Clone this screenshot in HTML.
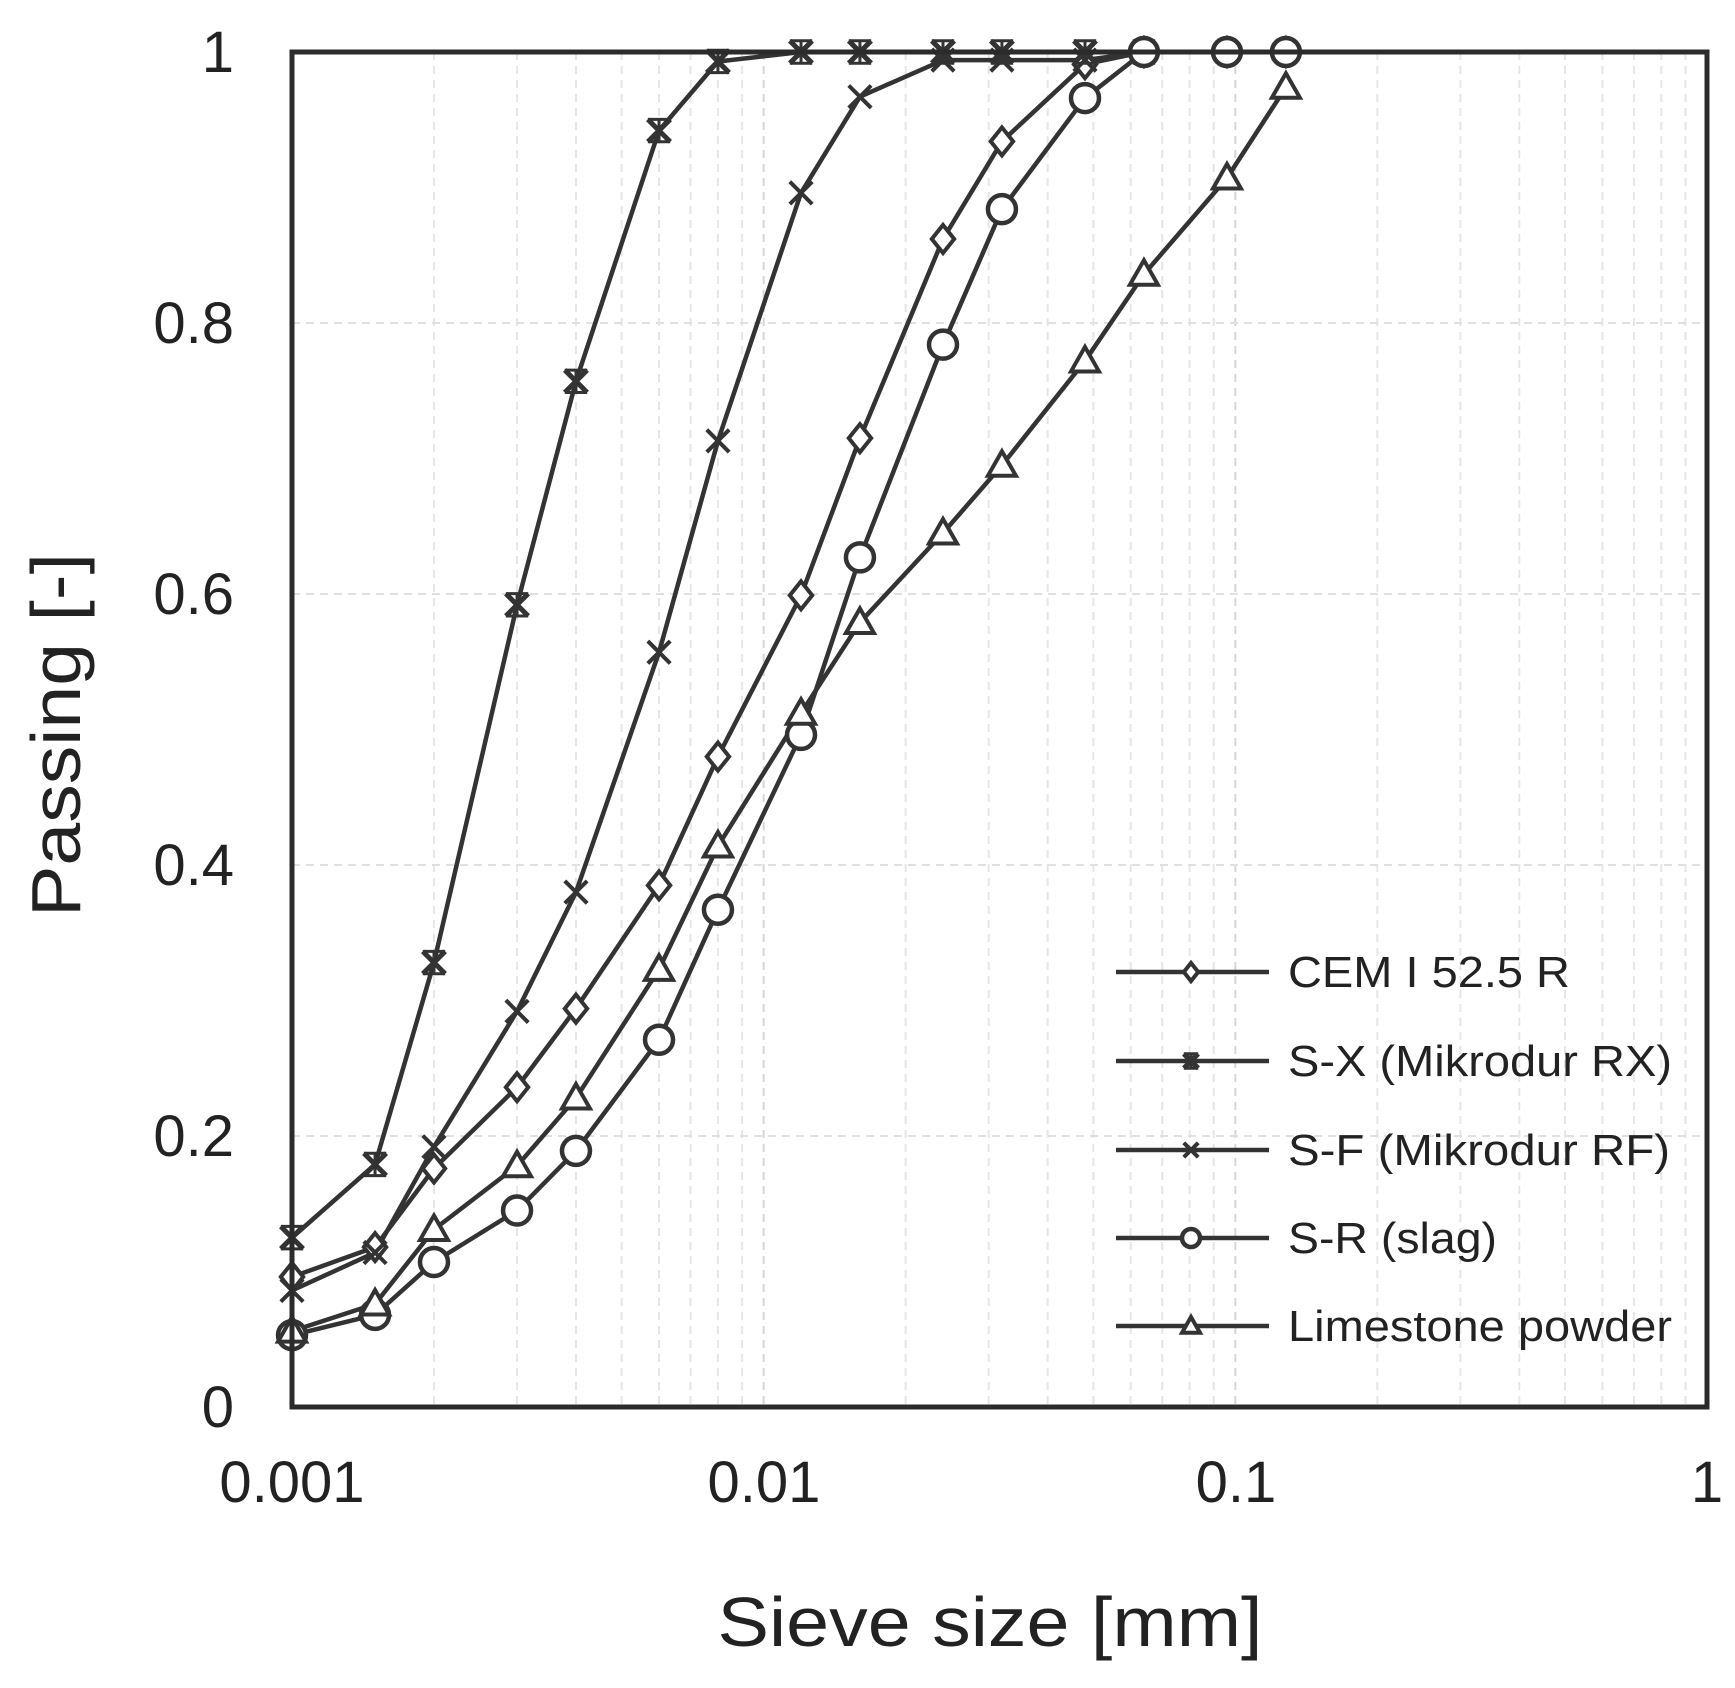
<!DOCTYPE html>
<html><head><meta charset="utf-8"><style>html,body{margin:0;padding:0;background:#fff}svg{display:block}</style></head>
<body>
<svg id="s" width="1735" height="1688" viewBox="0 0 1735 1688" xmlns="http://www.w3.org/2000/svg" font-family="Liberation Sans, sans-serif">
<g id="grid"></g>
<g id="data"></g>
<rect x="292" y="52" width="1415" height="1355" fill="none" stroke="#2b2b2b" stroke-width="5"/>
<g font-size="58" fill="#222" text-anchor="end">
<text x="234" y="72">1</text>
<text x="234" y="343">0.8</text>
<text x="234" y="614">0.6</text>
<text x="234" y="885">0.4</text>
<text x="234" y="1156">0.2</text>
<text x="234" y="1427">0</text>
</g>
<g font-size="58" fill="#222" text-anchor="middle">
<text x="292" y="1502">0.001</text>
<text x="764" y="1502">0.01</text>
<text x="1236" y="1502">0.1</text>
<text x="1707" y="1502">1</text>
</g>
<text x="990" y="1646" font-size="70" fill="#222" text-anchor="middle" textLength="545" lengthAdjust="spacingAndGlyphs">Sieve size [mm]</text>
<text transform="translate(80,735) rotate(-90)" font-size="70" fill="#222" text-anchor="middle" textLength="364" lengthAdjust="spacingAndGlyphs">Passing [-]</text>
<g id="legend" font-size="44" fill="#222">
<text x="1288" y="987" textLength="282" lengthAdjust="spacingAndGlyphs">CEM I 52.5 R</text>
<text x="1288" y="1076" textLength="384" lengthAdjust="spacingAndGlyphs">S-X (Mikrodur RX)</text>
<text x="1288" y="1165" textLength="382" lengthAdjust="spacingAndGlyphs">S-F (Mikrodur RF)</text>
<text x="1288" y="1253" textLength="209" lengthAdjust="spacingAndGlyphs">S-R (slag)</text>
<text x="1288" y="1341" textLength="384" lengthAdjust="spacingAndGlyphs">Limestone powder</text>
</g>
</svg>
<script>
var NS="http://www.w3.org/2000/svg";
var L=292,R=1707,T=52,B=1407,DEC=(R-L)/3;
function X(v){return L+(Math.log10(v)+3)*DEC}
function Y(v){return B-v*(B-T)}
function el(p,n,a){var e=document.createElementNS(NS,n);for(var k in a)e.setAttribute(k,a[k]);p.appendChild(e);return e}
var g=document.getElementById('grid');
for(var d=-3;d<0;d++)for(var m=2;m<=9;m++){var x=X(m*Math.pow(10,d));el(g,'line',{x1:x,x2:x,y1:T,y2:B,stroke:'#e6e6e6','stroke-width':2,'stroke-dasharray':'8,6'})}
for(var d=1;d<3;d++){var x=X(Math.pow(10,-3+d));el(g,'line',{x1:x,x2:x,y1:T,y2:B,stroke:'#d6d6d6','stroke-width':2,'stroke-dasharray':'8,6'})}
for(var i=1;i<5;i++){var y=Y(i*0.2);el(g,'line',{x1:L,x2:R,y1:y,y2:y,stroke:'#e0e0e0','stroke-width':2,'stroke-dasharray':'8,6'})}
var xs=[0.001,0.0015,0.002,0.003,0.004,0.006,0.008,0.012,0.016,0.024,0.032,0.048,0.064,0.096,0.128];
var S=[
 {m:'d',y:[0.096,0.118,0.176,0.236,0.294,0.385,0.48,0.599,0.715,0.862,0.934,0.991,1,1,1]},
 {m:'sx',y:[0.125,0.179,0.328,0.592,0.757,0.942,0.993,1,1,1,1,1,1]},
 {m:'x',y:[0.086,0.114,0.192,0.292,0.38,0.557,0.713,0.896,0.967,0.994,0.994,0.994,1]},
 {m:'o',y:[0.053,0.068,0.107,0.145,0.189,0.271,0.367,0.496,0.627,0.784,0.884,0.966,1,1,1]},
 {m:'t',y:[0.056,0.076,0.131,0.178,0.228,0.323,0.414,0.512,0.579,0.645,0.695,0.772,0.836,0.907,0.974]}
];
var C='#333';
function marker(p,t,x,y,r){
 if(t=='d')el(p,'polygon',{points:[x,y-r,x+r*0.8,y,x,y+r,x-r*0.8,y].join(' '),fill:'#fff',stroke:C,'stroke-width':4});
 else if(t=='o')el(p,'circle',{cx:x,cy:y,r:r,fill:'#fff',stroke:C,'stroke-width':4.5});
 else if(t=='t')el(p,'polygon',{points:[x,y-r,x+r,y+r*0.75,x-r,y+r*0.75].join(' '),fill:'#fff',stroke:C,'stroke-width':4});
 else{var a=r*0.8;el(p,'path',{d:'M'+(x-a)+' '+(y-a)+'L'+(x+a)+' '+(y+a)+'M'+(x+a)+' '+(y-a)+'L'+(x-a)+' '+(y+a),stroke:C,'stroke-width':t=='sx'?5:4,fill:'none'});
  if(t=='sx')el(p,'path',{d:'M'+x+' '+(y-a)+'L'+x+' '+(y+a)+'M'+(x-a)+' '+(y-a)+'L'+(x+a)+' '+(y-a)+'M'+(x-a)+' '+(y+a)+'L'+(x+a)+' '+(y+a),stroke:C,'stroke-width':3,fill:'none'});}
}
var dg=document.getElementById('data');
S.forEach(function(s){var pts=s.y.map(function(v,i){return X(xs[i])+','+Y(v)}).join(' ');
 el(dg,'polyline',{points:pts,fill:'none',stroke:C,'stroke-width':4.5,'stroke-linejoin':'round'});});
S.forEach(function(s){s.y.forEach(function(v,i){marker(dg,s.m,X(xs[i]),Y(v),14)})});
var lg=document.getElementById('legend');var ly=[972,1061,1150,1238,1326];
S.forEach(function(s,i){el(lg,'line',{x1:1116,x2:1269,y1:ly[i],y2:ly[i],stroke:C,'stroke-width':4.5});marker(lg,s.m,1191,ly[i],9)});
</script>
</body></html>
